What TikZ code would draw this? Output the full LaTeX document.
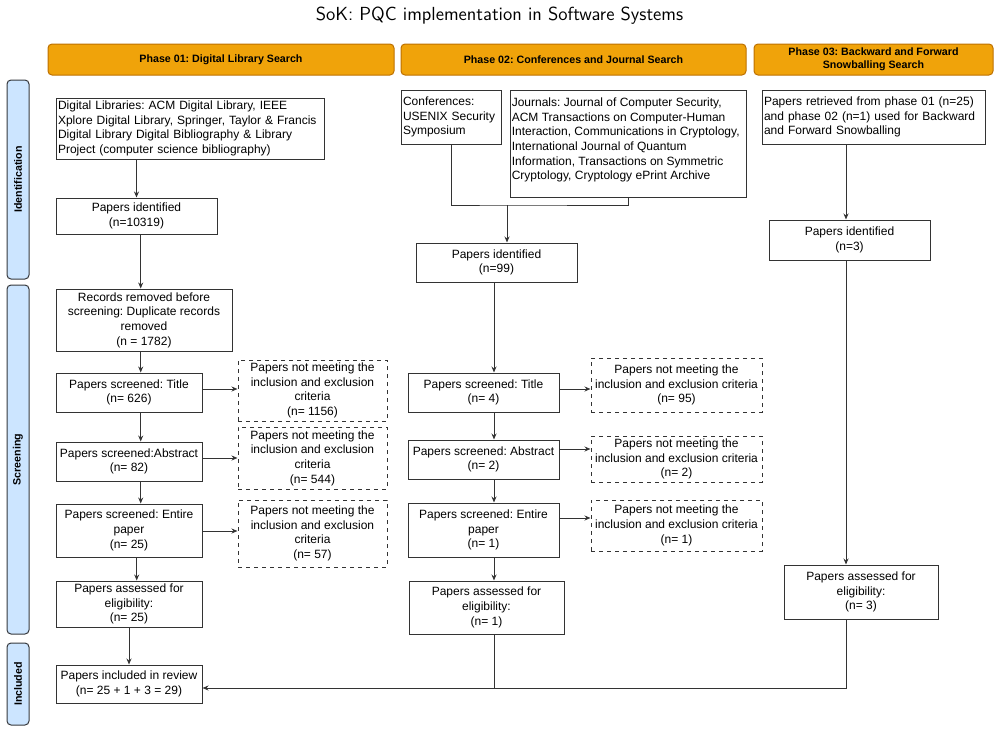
\documentclass[tikz,border=0pt]{standalone}
\usepackage{fontspec}
\setmainfont{Liberation Sans}
\usetikzlibrary{arrows.meta}
\frenchspacing
\definecolor{hdrfill}{HTML}{F0A30A}
\definecolor{hdrline}{HTML}{BD7000}
\definecolor{sidefill}{HTML}{CCE5FF}
\definecolor{sideline}{HTML}{36393D}
\definecolor{boxline}{HTML}{333333}
\tikzset{
  box/.style={draw=boxline, line width=0.75pt, align=center, inner sep=0pt, font=\fontsize{9}{11}\selectfont},
  lbox/.style={box, align=left, inner xsep=1.5pt},
  nbox/.style={box, dash pattern=on 3pt off 3pt},
  hdr/.style={draw=hdrline, fill=hdrfill, rounded corners=3pt, line width=0.75pt, align=center, inner sep=0pt, minimum height=23.25pt, font=\fontsize{8}{9.5}\selectfont\bfseries},
  side/.style={draw=sideline, fill=sidefill, rounded corners=3pt, line width=0.75pt, rotate=90, inner sep=0pt, minimum height=16.5pt, font=\fontsize{8}{9.5}\selectfont\bfseries},
  arr/.style={draw=boxline, line width=0.75pt, -{Stealth[length=4.5pt,width=3.75pt]}},
  ln/.style={draw=boxline, line width=0.75pt},
}
\begin{document}
\begin{tikzpicture}[x=0.75pt,y=-0.75pt]
\useasboundingbox (0,0) rectangle (999,733);
\node[font=\sffamily\fontsize{14.2}{17}\selectfont, inner sep=0pt] (title) at (499.5,15.5) {SoK: PQC implementation in Software Systems};

% phase headers
\node[hdr, minimum width=259.5pt] (ph1) at (221,59.5) {Phase 01: Digital Library Search};
\node[hdr, minimum width=258.75pt] (ph2) at (573.5,59.5) {Phase 02: Conferences and Journal Search};
\node[hdr, minimum width=179.25pt] (ph3) at (873.5,59.5) {Phase 03: Backward and Forward\\Snowballing Search};

% side bars
\node[side, minimum width=149.25pt] (sid) at (18,179.5) {Identification};
\node[side, minimum width=261.75pt] (sscr) at (18,459.5) {Screening};
\node[side, minimum width=61.5pt] (sinc) at (18,684) {Included};

% phase 1
\node[lbox, minimum width=201pt, text width=198pt, minimum height=45.75pt] (dl) at (190,128.5)
  {Digital Libraries: ACM Digital Library, IEEE\\Xplore Digital Library, Springer, Taylor \& Francis\\Digital Library Digital Bibliography \& Library\\Project (computer science bibliography)};
\node[box, minimum width=120.75pt, minimum height=27pt] (pi1) at (136.5,216) {Papers identified\\(n=10319)};
\node[box, minimum width=132pt, minimum height=46.5pt] (rr) at (144,320) {Records removed before\\screening: Duplicate records\\removed\\(n = 1782)};
\node[box, minimum width=109.5pt, minimum height=29.25pt] (pst1) at (129,392.5) {Papers screened: Title\\(n= 626)};
\node[nbox, minimum width=111.75pt, minimum height=45.75pt] (nm1a) at (312.5,390.5) {Papers not meeting the\\inclusion and exclusion\\criteria\\(n= 1156)};
\node[box, minimum width=109.5pt, minimum height=29.25pt] (psa1) at (129,461.5) {Papers screened:Abstract\\(n= 82)};
\node[nbox, minimum width=111.75pt, minimum height=46.5pt] (nm1b) at (312.5,458) {Papers not meeting the\\inclusion and exclusion\\criteria\\(n= 544)};
\node[box, minimum width=109.5pt, minimum height=39.75pt] (pse1) at (129,530.5) {Papers screened: Entire\\paper\\(n= 25)};
\node[nbox, minimum width=111.75pt, minimum height=50.25pt] (nm1c) at (312.5,533.5) {Papers not meeting the\\inclusion and exclusion\\criteria\\(n= 57)};
\node[box, minimum width=109.5pt, minimum height=34.5pt] (pae1) at (129,604) {Papers assessed for\\eligibility:\\(n= 25)};
\node[box, minimum width=109.5pt, minimum height=28.5pt] (pir) at (129,684) {Papers included in review\\(n= 25 + 1 + 3 = 29)};

% phase 2
\node[lbox, minimum width=75pt, text width=72pt, minimum height=40.5pt] (conf) at (451,117) {Conferences:\\USENIX Security\\Symposium};
\node[box, minimum width=177pt, minimum height=80.25pt,
  label={[anchor=north west, inner xsep=1.5pt, inner ysep=6pt, align=left, font=\fontsize{9}{11}\selectfont]north west:{Journals: Journal of Computer Security,\\ACM Transactions on Computer-Human\\Interaction, Communications in Cryptology,\\International Journal of Quantum\\Information, Transactions on Symmetric\\Cryptology, Cryptology ePrint Archive}}] (jr) at (628,143.5) {};
\node[box, minimum width=120.75pt, minimum height=29.25pt] (pi2) at (496.5,262.5) {Papers identified\\(n=99)};
\node[box, minimum width=113.25pt, minimum height=29.25pt] (pst2) at (483.5,392.5) {Papers screened: Title\\(n= 4)};
\node[nbox, minimum width=128.25pt, minimum height=40.5pt] (nm2a) at (676.5,385) {Papers not meeting the\\inclusion and exclusion criteria\\(n= 95)};
\node[box, minimum width=113.25pt, minimum height=29.25pt] (psa2) at (483.5,459.5) {Papers screened: Abstract\\(n= 2)};
\node[nbox, minimum width=128.25pt, minimum height=34.5pt] (nm2b) at (676.5,459) {Papers not meeting the\\inclusion and exclusion criteria\\(n= 2)};
\node[box, minimum width=113.25pt, minimum height=40.5pt] (pse2) at (483.5,530) {Papers screened: Entire\\paper\\(n= 1)};
\node[nbox, minimum width=128.25pt, minimum height=38.25pt] (nm2c) at (676.5,525.5) {Papers not meeting the\\inclusion and exclusion criteria\\(n= 1)};
\node[box, minimum width=116.25pt, minimum height=39.75pt] (pae2) at (486.5,607.5) {Papers assessed for\\eligibility:\\(n= 1)};

% phase 3
\node[lbox, minimum width=167.25pt, text width=164.25pt, minimum height=40.5pt] (pr) at (873.5,117) {Papers retrieved from phase 01 (n=25)\\and phase 02 (n=1) used for Backward\\and Forward Snowballing};
\node[box, minimum width=120.75pt, minimum height=30pt] (pi3) at (849.5,240) {Papers identified\\(n=3)};
\node[box, minimum width=115.5pt, minimum height=40.5pt] (pae3) at (861,592) {Papers assessed for\\eligibility:\\(n= 3)};

% helper coordinates
\coordinate (xa) at (140.7,0);
\coordinate (xb) at (136.7,0);
\coordinate (xc) at (494,0);
\coordinate (m2) at (507,205);
\coordinate (j3) at (846,688);
\coordinate (ya) at (0,389);
\coordinate (yb) at (0,458);
\coordinate (yc) at (0,531);
\coordinate (yd) at (0,449);
\coordinate (ye) at (0,518);

% phase 1 connectors
\draw[arr] (dl.south -| pi1) -- (pi1.north);
\draw[arr] (pi1.south -| xa) -- (rr.north -| xa);
\draw[arr] (rr.south -| xa) -- (pst1.north -| xa);
\draw[arr] (pst1.south -| xa) -- (psa1.north -| xa);
\draw[arr] (psa1.south -| xa) -- (pse1.north -| xa);
\draw[arr] (pse1.south -| xb) -- (pae1.north -| xb);
\draw[arr] (pae1.south) -- (pir.north);
\draw[arr] (pst1.east |- ya) -- (nm1a.west |- ya);
\draw[arr] (psa1.east |- yb) -- (nm1b.west |- yb);
\draw[arr] (pse1.east |- yc) -- (nm1c.west |- yc);

% phase 2 connectors
\draw[ln] (conf.south) |- (m2) -| (jr.south);
\draw[arr] (m2) -- (m2 |- pi2.north);
\draw[arr] (pi2.south -| xc) -- (pst2.north -| xc);
\draw[arr] (pst2.south -| xc) -- (psa2.north -| xc);
\draw[arr] (psa2.south -| xc) -- (pse2.north -| xc);
\draw[arr] (pse2.south -| xc) -- (pae2.north -| xc);
\draw[arr] (pst2.east |- ya) -- (nm2a.west |- ya);
\draw[arr] (psa2.east |- yd) -- (nm2b.west |- yd);
\draw[arr] (pse2.east |- ye) -- (nm2c.west |- ye);
\draw[ln] (pae2.south -| xc) -- (xc |- j3);

% phase 3 connectors
\draw[arr] (pr.south -| j3) -- (pi3.north -| j3);
\draw[arr] (pi3.south -| j3) -- (pae3.north -| j3);
\draw[arr] (pae3.south -| j3) -- (j3) -- (j3 -| pir.east);
\end{tikzpicture}
\end{document}
